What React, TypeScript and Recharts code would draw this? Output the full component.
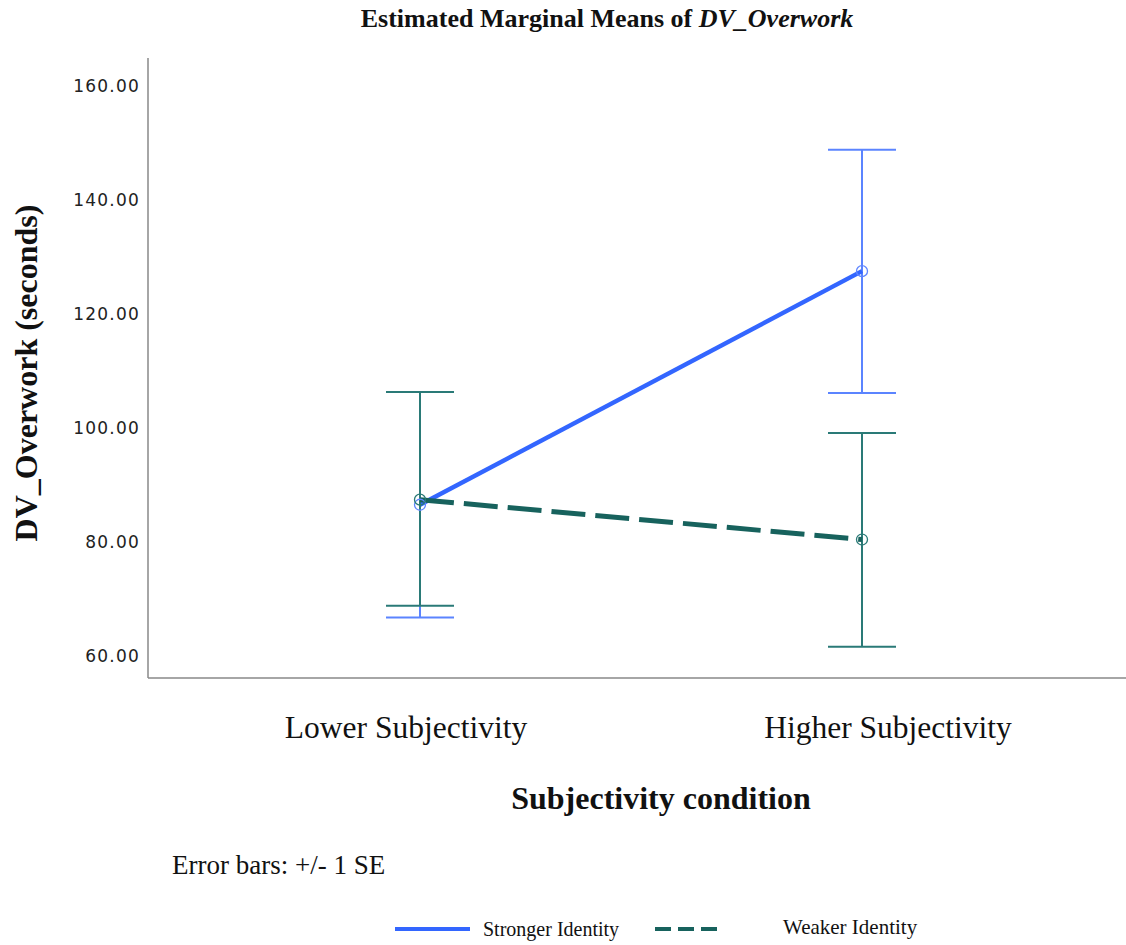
import React from 'react';
import { LineChart, Line, XAxis, YAxis, ErrorBar } from 'recharts';

const categories = ['Lower Subjectivity', 'Higher Subjectivity'];
const strongerMean = [86.5, 127.5];
const strongerUpper = [106.3, 148.8];
const strongerLower = [66.7, 106.1];
const weakerMean = [87.4, 80.4];
const weakerUpper = [106.3, 99.1];
const weakerLower = [68.8, 61.6];
const yTicks = [60, 80, 100, 120, 140, 160];

const data = categories.map((c, i) => ({
  cat: c,
  strong: strongerMean[i],
  strongErr: [strongerMean[i] - strongerLower[i], strongerUpper[i] - strongerMean[i]],
  weak: weakerMean[i],
  weakErr: [weakerMean[i] - weakerLower[i], weakerUpper[i] - weakerMean[i]],
}));

const BLUE = '#3366ff';
const BLUE_EB = '#5b84ff';
const TEAL = '#17625d';
const TEAL_EB = '#2a7a77';
const SERIF = '"Liberation Serif", "Times New Roman", serif';

const tickShift = [-14, 26];

const XTick = (props: any) => {
  const { x, payload, index } = props;
  return (
    <text x={x + (tickShift[index] ?? 0)} y={738} textAnchor="middle" fontFamily={SERIF} fontSize={31.5} fill="#111">
      {payload.value}
    </text>
  );
};

const Circle = (color: string) => (props: any) => {
  const { cx, cy } = props;
  return <circle cx={cx} cy={cy} r={5.5} fill="none" stroke={color} strokeWidth={1.3} />;
};

export default function App() {
  return (
    <div style={{ position: 'absolute', left: 0, top: 0, width: 1126, height: 945, background: '#fff', fontFamily: SERIF }}>
      <div style={{ position: 'absolute', left: 0, width: 1214, top: 4, textAlign: 'center', fontSize: 26, fontWeight: 'bold', color: '#111' }}>
        Estimated Marginal Means of <i>DV_Overwork</i>
      </div>
      <LineChart width={1126} height={945} data={data} margin={{ top: 58, right: 0, left: 0, bottom: 0 }}>
        <XAxis
          dataKey="cat"
          height={267}
          padding={{ left: 272, right: 264 }}
          axisLine={{ stroke: '#888', strokeWidth: 1.5 }}
          tickLine={false}
          tick={<XTick />}
        />
        <YAxis
          width={148}
          domain={[56.1, 164.9]}
          ticks={yTicks}
          tickFormatter={(v: number) => v.toFixed(2)}
          axisLine={{ stroke: '#888', strokeWidth: 1.5 }}
          tickLine={false}
          tickSize={0}
          tickMargin={8}
          tick={{ fontFamily: '"DejaVu Sans", sans-serif', fontSize: 17, fill: '#222', letterSpacing: 1.2 }}
          label={(p: any) => (
            <text x={26} y={373} transform="rotate(-90, 26, 373)" textAnchor="middle" dominantBaseline="central" fontFamily={SERIF} fontWeight="bold" fontSize={32} fill="#111">
              DV_Overwork (seconds)
            </text>
          )}
        />
        <Line
          dataKey="strong"
          stroke={BLUE}
          strokeWidth={4.5}
          dot={Circle('#5f86ff')}
          activeDot={false}
          isAnimationActive={false}
        >
          <ErrorBar dataKey="strongErr" direction="y" width={34} stroke={BLUE_EB} strokeWidth={2} />
        </Line>
        <Line
          dataKey="weak"
          stroke={TEAL}
          strokeWidth={5}
          strokeDasharray="34 10"
          dot={Circle(TEAL_EB)}
          activeDot={false}
          isAnimationActive={false}
        >
          <ErrorBar dataKey="weakErr" direction="y" width={34} stroke={TEAL_EB} strokeWidth={2} />
        </Line>
      </LineChart>
      <div style={{ position: 'absolute', left: 0, width: 1322, top: 780, textAlign: 'center', fontSize: 32, fontWeight: 'bold', color: '#111' }}>
        Subjectivity condition
      </div>
      <div style={{ position: 'absolute', left: 172, top: 850, fontSize: 27, color: '#111' }}>
        Error bars: +/- 1 SE
      </div>
      <svg style={{ position: 'absolute', left: 0, top: 910 }} width={1126} height={35}>
        <line x1={395} x2={470} y1={19} y2={19} stroke={BLUE} strokeWidth={4} />
        <text x={483} y={26} fontFamily={SERIF} fontSize={20} fill="#111">Stronger Identity</text>
        <line x1={655} x2={722} y1={19} y2={19} stroke={TEAL} strokeWidth={4} strokeDasharray="16 7" />
        <text x={783} y={24} fontFamily={SERIF} fontSize={21} fill="#111">Weaker Identity</text>
      </svg>
    </div>
  );
}
